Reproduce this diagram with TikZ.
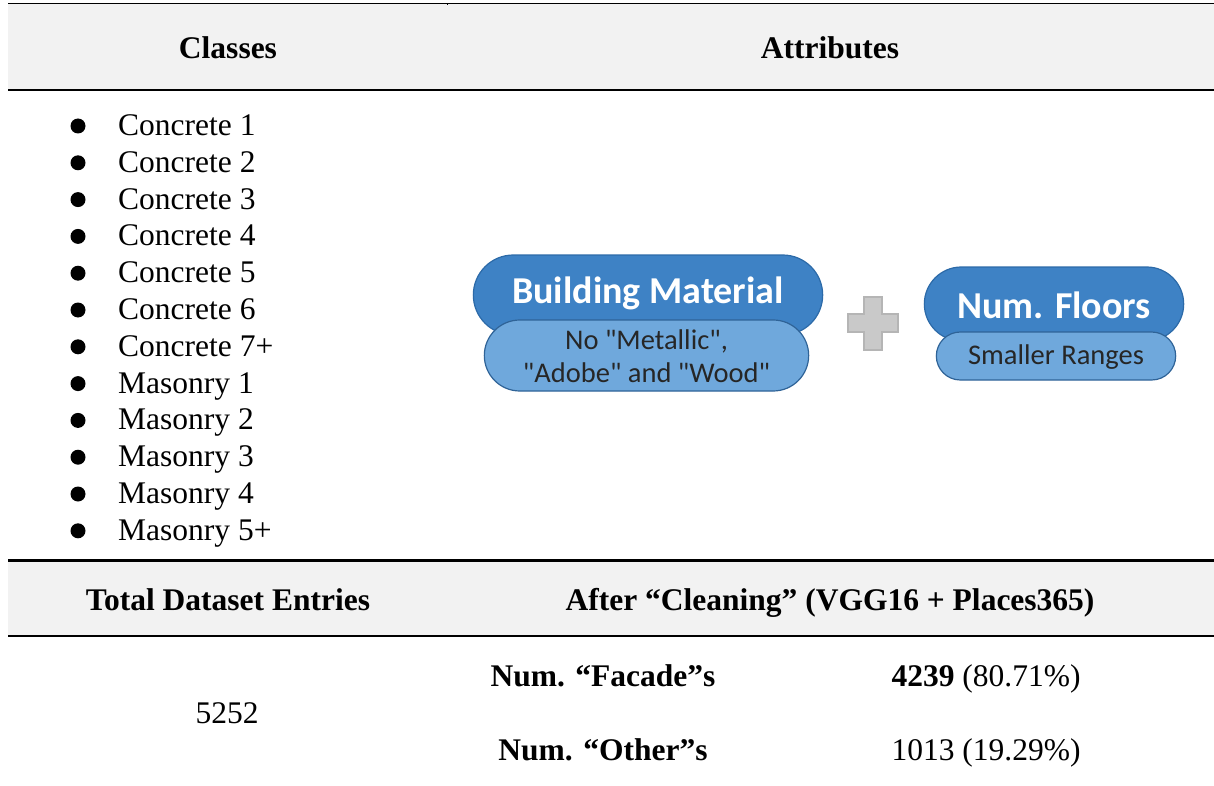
\documentclass[tikz,border=0pt]{standalone}
\usepackage{fontspec}
\setmainfont{Liberation Serif}
\newfontfamily\calib{Carlito}
\usetikzlibrary{shapes.misc}
\definecolor{bandgray}{HTML}{F2F2F2}
\definecolor{pilldark}{HTML}{3E82C5}
\definecolor{pilldarkedge}{HTML}{2C6AA8}
\definecolor{pilllight}{HTML}{6FA8DC}
\definecolor{pilllightedge}{HTML}{2F6397}
\definecolor{plusgray}{HTML}{C9C9C9}
\definecolor{plusedge}{HTML}{B5B5B5}
\begin{document}
\begin{tikzpicture}[x=1pt,y=-1pt,
  tabtext/.style={font=\fontsize{31.5}{37}\selectfont, inner sep=0pt},
  tabhead/.style={tabtext, font=\fontsize{31.5}{37}\selectfont\bfseries},
  item/.style={tabtext, anchor=base west},
  bulletdot/.style={circle, fill=black, inner sep=0pt, minimum size=15pt},
  pilltop/.style={rounded rectangle, fill=pilldark, draw=pilldarkedge, line width=1.2pt},
  pillsub/.style={rounded rectangle, fill=pilllight, draw=pilllightedge, line width=1.2pt},
  pillhead/.style={text=white, inner sep=0pt, font=\calib\fontsize{38}{40}\selectfont\bfseries},
  pillnote/.style={text=black!85, inner sep=0pt, align=center, font=\calib\fontsize{28.5}{33}\selectfont},
  rule/.style={line width=2.5pt},
]
\useasboundingbox (0,0) rectangle (1214,786);

% header bands
\fill[bandgray] (8,4) rectangle (1214,90);
\fill[bandgray] (8,561) rectangle (1214,636);
\draw[line width=1pt] (8,3.5) -- (1214,3.5);
\draw[line width=0.8pt] (447,3.5) -- (447,5.5);
\draw[rule] (8,90) -- (1214,90);
\draw[rule] (8,560.5) -- (1214,560.5);
\draw[rule] (8,636) -- (1214,636);

% column headings
\node[tabhead, anchor=base] (hclass) at (228,58.5) {Classes};
\node[tabhead, anchor=base] (hattr) at (830,58.5) {Attributes};

% class list
\foreach \t [count=\i from 0] in {Concrete 1,Concrete 2,Concrete 3,Concrete 4,Concrete 5,Concrete 6,Concrete 7+,Masonry 1,Masonry 2,Masonry 3,Masonry 4,Masonry 5+}{
  \node[bulletdot] (b\i) at (78,{126+36.8*\i}) {};
  \node[item] (c\i) at (118,{135.5+36.8*\i}) {\t};
}

% attribute pills
\node[pilltop, minimum width=356pt, minimum height=80pt] (bmtop) at (648,295) {};
\node[pillhead] (bmlabel) at (648,293) {Building Material};
\node[pillsub, minimum width=331pt, minimum height=71pt] (bmsub) at (646.5,355.5) {};
\node[pillnote] (bmnote) at (646.5,356) {No "Metallic",\\"Adobe" and "Wood"};

\fill[plusgray, draw=plusedge, line width=1.2pt]
  (864,297) -- (882,297) -- (882,314) -- (898,314) -- (898,332) -- (882,332)
  -- (882,350) -- (864,350) -- (864,332) -- (848,332) -- (848,314) -- (864,314) -- cycle;

\node[pilltop, minimum width=266pt, minimum height=74pt] (nftop) at (1054,304) {};
\node[pillhead] (nflabel) at (1054,305) {Num. Floors};
\node[pillsub, minimum width=246pt, minimum height=48pt] (nfsub) at (1056,356) {};
\node[pillnote] (nfnote) at (1056,357) {Smaller Ranges};

% dataset summary
\node[tabhead, anchor=base] (htotal) at (228,610) {Total Dataset Entries};
\node[tabhead, anchor=base] (hclean) at (830,610) {After “Cleaning” (VGG16 + Places365)};
\node[tabtext, anchor=base] (total) at (227,723) {5252};
\node[tabhead, anchor=base] (facade) at (603,686) {Num. “Facade”s};
\node[tabtext, anchor=base] (facaden) at (986,686) {\textbf{4239} (80.71\%)};
\node[tabhead, anchor=base] (other) at (603,760) {Num. “Other”s};
\node[tabtext, anchor=base] (othern) at (986,760) {1013 (19.29\%)};
\end{tikzpicture}
\end{document}
